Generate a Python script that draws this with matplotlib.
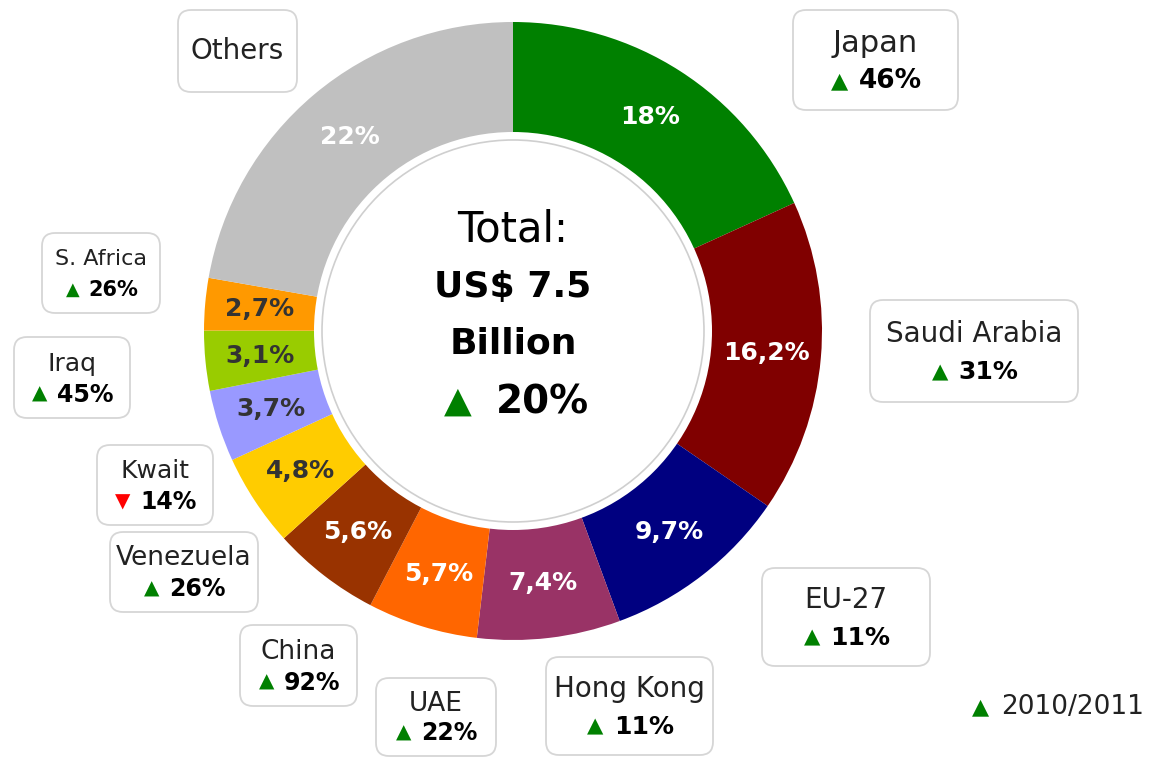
import matplotlib
matplotlib.use("Agg")
import matplotlib.pyplot as plt
from matplotlib.patches import Circle, FancyBboxPatch
import numpy as np

W, H = 1153, 758

countries = ["Japan", "Saudi Arabia", "EU-27", "Hong Kong", "UAE", "China",
             "Venezuela", "Kwait", "Iraq", "S. Africa", "Others"]
shares = [18, 16.2, 9.7, 7.4, 5.7, 5.6, 4.8, 3.7, 3.1, 2.7, 22]
share_labels = ["18%", "16,2%", "9,7%", "7,4%", "5,7%", "5,6%",
                "4,8%", "3,7%", "3,1%", "2,7%", "22%"]
growth = ["46%", "31%", "11%", "11%", "22%", "92%", "26%", "14%", "45%", "26%", None]
growth_up = [True, True, True, True, True, True, True, False, True, True, None]

colors = ["#008000", "#800000", "#000080", "#993366", "#FF6600", "#993300",
          "#FFCC00", "#9999FF", "#99CC00", "#FF9900", "#C0C0C0"]
label_colors = ["white"] * 6 + ["#333333"] * 4 + ["white"]

# box layout in image pixels: (left, top, right, bottom), name size, value size
boxes = [
    (793, 10, 958, 110, 22, 19),
    (870, 300, 1078, 402, 20, 18),
    (762, 568, 930, 666, 20, 18),
    (546, 657, 713, 755, 20, 18),
    (376, 678, 496, 756, 19, 17),
    (240, 625, 357, 706, 19, 17),
    (110, 532, 258, 612, 19, 17),
    (97, 445, 213, 525, 18, 17),
    (14, 337, 130, 418, 18, 17),
    (42, 233, 160, 313, 16, 15),
    (178, 10, 297, 92, 20, 18),
]

GREEN = "#008000"
RED = "#FF0000"

plt.rcParams['font.family'] = ['DejaVu Sans']

fig = plt.figure(figsize=(W / 100, H / 100), dpi=100)
ax = fig.add_axes([0, 0, 1, 1])

cx, cy = 513, H - 331
R = 309
wedges, _ = ax.pie(shares, colors=colors, startangle=90, counterclock=False,
                   center=(cx, cy), radius=R,
                   wedgeprops=dict(width=111, edgecolor='none', linewidth=0))

ax.add_patch(Circle((cx, cy), 199, facecolor='white', edgecolor='none', zorder=3))
ax.add_patch(Circle((cx, cy), 191, facecolor='none', edgecolor='#cfcfcf', lw=1.2, zorder=4))

# percentage labels in the ring
for w, lab, c in zip(wedges, share_labels, label_colors):
    mid = np.deg2rad((w.theta1 + w.theta2) / 2)
    r = 254
    ax.text(cx + r * np.cos(mid), cy + r * np.sin(mid), lab, color=c,
            fontsize=18, fontweight='bold', ha='center', va='center', zorder=5)

# centre text
ax.text(cx, H - 230, "Total:", fontsize=30, ha='center', va='center', color='black', zorder=5)
ax.text(cx, H - 287, "US$ 7.5", fontsize=26, fontweight='bold', ha='center', va='center', zorder=5)
ax.text(cx, H - 343, "Billion", fontsize=26, fontweight='bold', ha='center', va='center', zorder=5)
ax.text(cx - 55, H - 402, "\u25B2", fontsize=26, color=GREEN, ha='center', va='center', zorder=5)
ax.text(cx + 29, H - 402, "20%", fontsize=28, fontweight='bold', ha='center', va='center', zorder=5)

# country boxes
for name, g, up, (l, t, r, b, fs, fv) in zip(countries, growth, growth_up, boxes):
    ax.add_patch(FancyBboxPatch((l, H - b), r - l, b - t,
                                boxstyle="round,pad=0,rounding_size=13",
                                facecolor='white', edgecolor='#d6d6d6', lw=1.3, zorder=6))
    xm = (l + r) / 2
    if g is None:
        ax.text(xm, H - (t + b) / 2, name, fontsize=fs, ha='center', va='center',
                color='#222222', zorder=7)
        continue
    ym1 = H - (t + (b - t) * 0.33)
    ym2 = H - (t + (b - t) * 0.71)
    ax.text(xm, ym1, name, fontsize=fs, ha='center', va='center', color='#222222', zorder=7)
    tri = "\u25B2" if up else "\u25BC"
    ax.text(xm - fv * 1.9, ym2, tri, fontsize=fv * 0.85, color=GREEN if up else RED,
            ha='center', va='center', zorder=7)
    ax.text(xm + fv * 0.8, ym2, g, fontsize=fv, fontweight='bold', ha='center', va='center',
            color='black', zorder=7)

# legend note
ax.text(980, H - 707, "\u25B2", fontsize=16, color=GREEN, ha='center', va='center')
ax.text(1001, H - 707, "2010/2011", fontsize=19, ha='left', va='center', color='#222222')

ax.set_xlim(0, W)
ax.set_ylim(0, H)
ax.set_aspect('auto')
ax.axis('off')

fig.savefig("out.png", dpi=100, facecolor='white')
